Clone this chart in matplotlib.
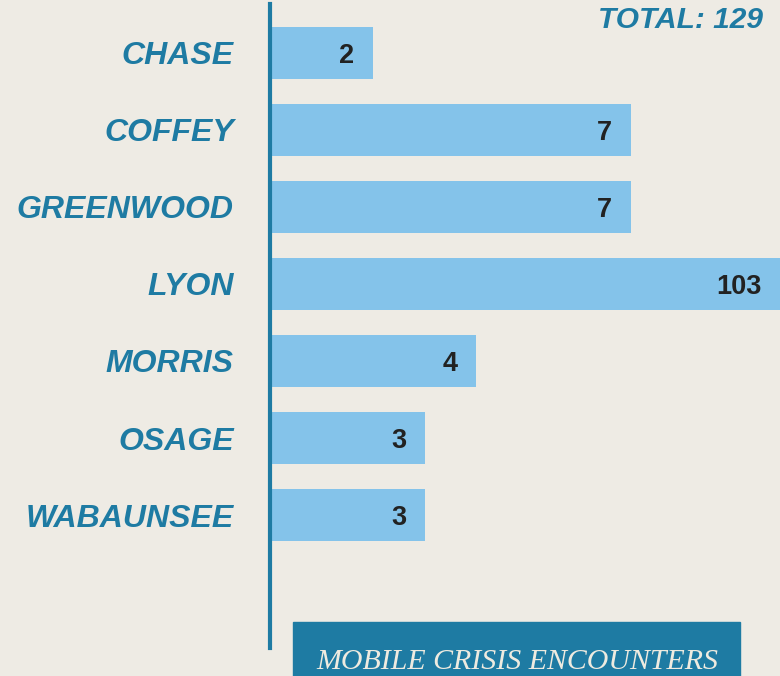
import matplotlib.pyplot as plt
from matplotlib.patches import Rectangle

# data
counties = ['CHASE', 'COFFEY', 'GREENWOOD', 'LYON', 'MORRIS', 'OSAGE', 'WABAUNSEE']
encounters = [2, 7, 7, 103, 4, 3, 3]
total = sum(encounters)

BG = '#EEEBE4'
TEAL = '#1E7BA3'
BAR = '#84C3EA'

fig = plt.figure(figsize=(7.8, 6.76), dpi=100, facecolor=BG)
ax = fig.add_axes([270 / 780, 28 / 676, 510 / 780, 644 / 676])
ax.set_facecolor(BG)

ypos = list(range(len(counties)))
ax.barh(ypos, encounters, height=0.675, color=BAR, zorder=2)

xmax = 9.9
ax.set_xlim(0, xmax)
ax.set_ylim(7.727, -0.636)

# value labels, inside the bar end (LYON runs off the axis)
for y, v in zip(ypos, encounters):
    ax.text(min(v, xmax) - 0.36, y + 0.04, str(v), ha='right', va='center',
            fontsize=19.5, fontweight='bold', color='#222222',
            family='Liberation Sans', zorder=3)

ax.set_yticks(ypos)
ax.set_yticklabels(counties, family='Liberation Sans', fontsize=23,
                   fontweight='bold', fontstyle='italic', color=TEAL)
ax.tick_params(axis='y', length=0, pad=26)
ax.set_xticks([])

for s in ['top', 'right', 'bottom']:
    ax.spines[s].set_visible(False)
ax.spines['left'].set_color(TEAL)
ax.spines['left'].set_linewidth(3)

fig.text(763 / 780, 1 - 20 / 676, f'TOTAL: {total}', ha='right', va='center',
         family='Liberation Sans', fontsize=21.5,
         fontweight='bold', fontstyle='italic', color=TEAL)

# title box at the bottom
fig.patches.append(Rectangle((293 / 780, 0), 447 / 780, 54 / 676,
                             transform=fig.transFigure, color=TEAL, zorder=1))
fig.text(517 / 780, 14 / 676, 'MOBILE CRISIS ENCOUNTERS', ha='center', va='center',
         family='Liberation Serif', fontstyle='italic', fontsize=21.5, color='#EEEBE0')

plt.savefig('out.png', dpi=100, facecolor=BG)
